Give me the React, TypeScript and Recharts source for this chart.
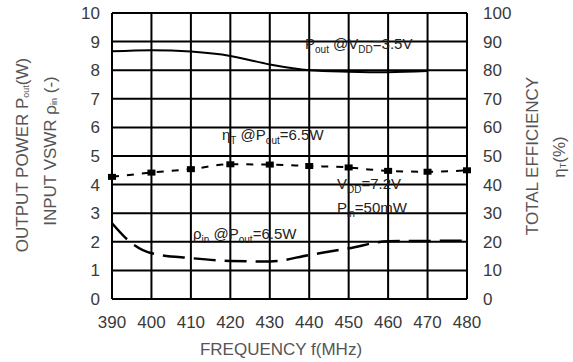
import {
  CartesianGrid,
  ComposedChart,
  Line,
  XAxis,
  YAxis,
} from "recharts";

// Frequency sweep, 390–480 MHz.
const FREQ_TICKS = [390, 400, 410, 420, 430, 440, 450, 460, 470, 480];
const LEFT_TICKS = [0, 1, 2, 3, 4, 5, 6, 7, 8, 9, 10];
const RIGHT_TICKS = [0, 10, 20, 30, 40, 50, 60, 70, 80, 90, 100];

// Pout @ VDD=3.5V (W, left axis)
const POUT_FREQ = [390, 400, 410, 420, 430, 440, 450, 460, 470];
const POUT_W = [8.66, 8.7, 8.65, 8.5, 8.2, 8.0, 7.95, 7.93, 7.97];

// total efficiency @ Pout=6.5W (%, right axis)
const ETA_FREQ = [390, 400, 410, 420, 430, 440, 450, 455, 460, 470, 480];
const ETA_PCT = [42.7, 44.2, 45.4, 47.1, 47.0, 46.5, 46.0, 45.3, 44.8, 44.5, 45.0];

// input VSWR @ Pout=6.5W (left axis)
const VSWR_FREQ = [390, 395, 400, 410, 420, 430, 440, 450, 460, 470, 480];
const VSWR = [2.65, 1.95, 1.6, 1.43, 1.33, 1.31, 1.54, 1.77, 2.02, 2.03, 2.04];

const FONT = "'Liberation Sans', Arial, sans-serif";
const TICK_COLOR = "#3a3a3a";
const TITLE_COLOR = "#555";
const NOTE_COLOR = "#222";

const poutData = POUT_FREQ.map((f, i) => ({ f, v: POUT_W[i] }));
const etaData = ETA_FREQ.map((f, i) => ({ f, v: ETA_PCT[i] }));
const vswrData = VSWR_FREQ.map((f, i) => ({ f, v: VSWR[i] }));

function SquareDot(props: any) {
  const { cx, cy, index } = props;
  if (cx == null || cy == null || index === 7) return <g key={index} />;
  return <rect key={index} x={cx - 4} y={cy - 3} width={8} height={6} fill="#000" />;
}

function Sub({ children, size = 10 }: { children: string; size?: number }) {
  return (
    <tspan fontSize={size} dy={4}>
      {children}
    </tspan>
  );
}

export default function App() {
  return (
    <div style={{ position: "absolute", left: 0, top: 0, width: 573, height: 362, background: "#fff" }}>
      <ComposedChart
        width={573}
        height={362}
        margin={{ top: 13, right: 0, bottom: 0, left: 0 }}
        style={{ fontFamily: FONT }}
      >
        {/* grid follows the right (efficiency) axis; its ticks line up with the left one */}
        <CartesianGrid yAxisId="right" stroke="#000" strokeWidth={2} />
        <XAxis
          dataKey="f"
          type="number"
          domain={[390, 480]}
          ticks={FREQ_TICKS}
          height={63}
          tickLine={false}
          axisLine={false}
          tickMargin={11}
          tick={{ fontSize: 17, fill: TICK_COLOR, fontFamily: FONT }}
          allowDuplicatedCategory={false}
        />
        <YAxis
          yAxisId="left"
          type="number"
          domain={[0, 10]}
          ticks={LEFT_TICKS}
          width={112}
          tickLine={false}
          axisLine={false}
          tickMargin={6}
          tick={{ fontSize: 17, fill: TICK_COLOR, fontFamily: FONT }}
        />
        <YAxis
          yAxisId="right"
          orientation="right"
          type="number"
          domain={[0, 100]}
          ticks={RIGHT_TICKS}
          width={106}
          tickLine={false}
          axisLine={false}
          tickMargin={10}
          tick={{ fontSize: 17, fill: TICK_COLOR, fontFamily: FONT, textAnchor: "start" }}
        />
        <Line
          yAxisId="left"
          data={poutData}
          dataKey="v"
          type="monotone"
          stroke="#000"
          strokeWidth={2}
          dot={false}
          isAnimationActive={false}
        />
        <Line
          yAxisId="right"
          data={etaData}
          dataKey="v"
          type="monotone"
          stroke="#000"
          strokeWidth={2}
          strokeDasharray="7 8"
          dot={<SquareDot />}
          isAnimationActive={false}
        />
        <Line
          yAxisId="left"
          data={vswrData}
          dataKey="v"
          type="monotone"
          stroke="#000"
          strokeWidth={2.5}
          strokeDasharray="22 9"
          dot={false}
          isAnimationActive={false}
        />
      </ComposedChart>

      <svg
        width={573}
        height={362}
        style={{ position: "absolute", left: 0, top: 0, pointerEvents: "none", fontFamily: FONT }}
      >
        {/* axis titles */}
        <text x={22} y={155} fontSize={17} fill={TITLE_COLOR} textAnchor="middle" dominantBaseline="central" transform="rotate(-90 22 155)">
          OUTPUT POWER P<Sub size={9}>out</Sub>
          <tspan dy={-4}>(W)</tspan>
        </text>
        <text x={50} y={151} fontSize={17} fill={TITLE_COLOR} textAnchor="middle" dominantBaseline="central" transform="rotate(-90 50 151)">
          INPUT VSWR ρ<Sub size={9}>in</Sub>
          <tspan dy={-4}> (-)</tspan>
        </text>
        <text x={532} y={156} fontSize={17} fill={TITLE_COLOR} textAnchor="middle" dominantBaseline="central" transform="rotate(-90 532 156)">
          TOTAL EFFICIENCY
        </text>
        <text x={559} y={157} fontSize={17} fill={TITLE_COLOR} textAnchor="middle" dominantBaseline="central" transform="rotate(-90 559 157)">
          η<Sub size={9}>T</Sub>
          <tspan dy={-4}>(%)</tspan>
        </text>
        <text x={281} y={349} fontSize={17} fill={TITLE_COLOR} textAnchor="middle" dominantBaseline="central">
          FREQUENCY f(MHz)
        </text>

        {/* curve annotations */}
        <text x={305} y={49} fontSize={15} fill={NOTE_COLOR}>
          P<Sub>out</Sub>
          <tspan dy={-4}> @V</tspan>
          <Sub>DD</Sub>
          <tspan dy={-4}>=3.5V</tspan>
        </text>
        <text x={222} y={140} fontSize={15} fill={NOTE_COLOR}>
          η<Sub>T</Sub>
          <tspan dy={-4}> @P</tspan>
          <Sub>out</Sub>
          <tspan dy={-4}>=6.5W</tspan>
        </text>
        <text x={337} y={189} fontSize={15} fill={NOTE_COLOR}>
          V<Sub>DD</Sub>
          <tspan dy={-4}>=7.2V</tspan>
        </text>
        <text x={337} y={213} fontSize={15} fill={NOTE_COLOR}>
          P<Sub>in</Sub>
          <tspan dy={-4}>=50mW</tspan>
        </text>
        <text x={193} y={239} fontSize={15} fill={NOTE_COLOR}>
          ρ<Sub>in</Sub>
          <tspan dy={-4}> @P</tspan>
          <Sub>out</Sub>
          <tspan dy={-4}>=6.5W</tspan>
        </text>
      </svg>
    </div>
  );
}
